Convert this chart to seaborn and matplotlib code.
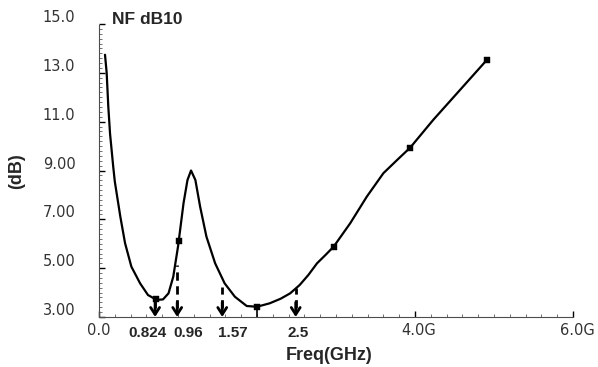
import matplotlib
matplotlib.use('Agg')
from matplotlib import pyplot as plt
from matplotlib.ticker import MultipleLocator
from matplotlib.transforms import ScaledTranslation
import pandas as pd
import seaborn as sns

# curve
freq_ghz = [0.076, 0.097, 0.118, 0.14, 0.18, 0.2, 0.27, 0.33, 0.41, 0.52, 0.62, 0.73,
            0.81, 0.88, 0.94, 1.0, 1.07, 1.12, 1.165, 1.22, 1.28, 1.36, 1.47, 1.59,
            1.72, 1.87, 2.0, 2.16, 2.3, 2.42, 2.54, 2.65, 2.76, 2.87, 2.97,
            3.18, 3.39, 3.6, 3.78, 3.94, 4.23, 4.57, 4.91]
nf_db = [13.74, 13.0, 11.6, 10.5, 9.16, 8.55, 7.11, 6.02, 5.06, 4.38, 3.9, 3.7,
         3.72, 3.97, 4.65, 5.88, 7.66, 8.61, 9.0, 8.61, 7.52, 6.29, 5.2, 4.38,
         3.83, 3.45, 3.42, 3.56, 3.75, 3.97, 4.31, 4.72, 5.2, 5.55, 5.88,
         6.84, 7.93, 8.89, 9.45, 9.94, 11.07, 12.3, 13.53]

# small square markers on the trace
marker_freq = [0.72, 1.01, 2.0, 2.97, 3.94, 4.91]
marker_db = [3.72, 6.1, 3.42, 5.88, 9.94, 13.53]

# arrows pointing to the axis + their labels
arrow_freq = [0.71, 0.99, 1.56, 2.49]
arrow_top_db = [3.7, 5.13, 4.24, 4.2]
arrow_labels = ['0.824', '0.96', '1.57', '2.5']
label_freq = [0.62, 1.13, 1.70, 2.52]

y_ticks = [3, 5, 7, 9, 11, 13, 15]
y_ticklabels = ['3.00', '5.00', '7.00', '9.00', '11.0', '13.0', '15.0']
x_ticks = [0, 4, 6]
x_ticklabels = ['0.0', '4.0G', '6.0G']

df = pd.DataFrame({'freq': freq_ghz, 'nf': nf_db})
df_m = pd.DataFrame({'freq': marker_freq, 'nf': marker_db})

sns.set_style('white')
plt.rcParams['font.family'] = ['DejaVu Sans']

fig = plt.figure(figsize=(5.98, 3.67), dpi=100)
ax = fig.add_axes([99 / 598, 1 - 317 / 367, 474 / 598, 293 / 367])

sns.lineplot(data=df, x='freq', y='nf', color='black', lw=1.6, ax=ax)
sns.scatterplot(data=df_m, x='freq', y='nf', color='black', marker='s', s=14,
                edgecolor='black', ax=ax, zorder=3)

ax.set_xlim(0, 6)
ax.set_ylim(3, 15)

# solid drop line at the 2.0 GHz marker
ax.vlines(marker_freq[2], 3, marker_db[2], color='black', lw=1.2)

bold = dict(family=['Liberation Sans', 'DejaVu Sans'], weight='bold')
for f, top, lab, lf in zip(arrow_freq, arrow_top_db, arrow_labels, label_freq):
    ax.plot([f, f], [3.35, top], color='black', lw=2, ls=(0, (3, 2)), clip_on=False)
    ax.annotate('', xy=(f, 3.0), xytext=(f, 3.6),
                arrowprops=dict(arrowstyle='->, head_length=0.5, head_width=0.32',
                                color='black', lw=2, shrinkA=0, shrinkB=0),
                annotation_clip=False)
    ax.text(lf, 2.33, lab, ha='center', va='center', fontsize=11, clip_on=False, **bold)

# axes look
sns.despine(ax=ax)
for side in ['left', 'bottom']:
    ax.spines[side].set_linestyle((0, (1, 1)))
    ax.spines[side].set_color('0.3')
    ax.spines[side].set_linewidth(0.8)

ax.set_yticks(y_ticks)
ax.set_yticklabels(y_ticklabels)
ax.set_xticks(x_ticks)
ax.set_xticklabels(x_ticklabels)
ax.yaxis.set_minor_locator(MultipleLocator(0.2))
ax.xaxis.set_minor_locator(MultipleLocator(0.2))
ax.tick_params(which='both', bottom=True, left=True, top=False, right=False)
ax.tick_params(which='major', direction='in', length=4, width=1, color='black')
ax.tick_params(which='minor', direction='in', length=2, width=0.6, color='0.35')
ax.tick_params(axis='y', which='major', pad=17, labelsize=10.5, labelcolor='#333333')
ax.tick_params(axis='x', which='major', pad=4, labelsize=10.5, labelcolor='#333333')
ax.set_xlabel('')
ax.set_ylabel('')

# y labels sit a little above their ticks in the original
up = ScaledTranslation(0, 8 / 100, fig.dpi_scale_trans)
for t in ax.get_yticklabels():
    t.set_transform(t.get_transform() + up)
right = ScaledTranslation(4 / 100, 0, fig.dpi_scale_trans)
for t in ax.get_xticklabels()[1:]:
    t.set_transform(t.get_transform() + right)

fig.text(112 / 598, 1 - 20 / 367, 'NF dB10', ha='left', va='center', fontsize=12.5, **bold)
fig.text(17 / 598, 1 - 171 / 367, '(dB)', ha='center', va='center', rotation=90,
         fontsize=13, **bold)
fig.text(329 / 598, 1 - 355 / 367, 'Freq(GHz)', ha='center', va='center', fontsize=13, **bold)

fig.savefig('out.png', dpi=100, facecolor='white')
